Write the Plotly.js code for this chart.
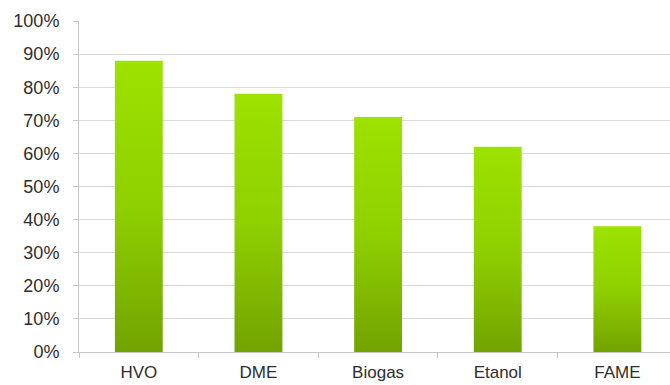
<!DOCTYPE html>
<html>
<head>
<meta charset="utf-8">
<script src="https://cdn.plot.ly/plotly-3.0.1.min.js"></script>
<style>
  html, body { margin: 0; padding: 0; background: #ffffff; }
  #chart { width: 670px; height: 385px; }
</style>
</head>
<body>
<div id="chart"></div>
<script>
// Share of greenhouse-gas reduction by fuel type
const fuels = ['HVO', 'DME', 'Biogas', 'Etanol', 'FAME'];
const shares = [0.88, 0.78, 0.71, 0.62, 0.38];
const yTickValues = [0, 0.1, 0.2, 0.3, 0.4, 0.5, 0.6, 0.7, 0.8, 0.9, 1.0];
const yTickLabels = ['0%', '10%', '20%', '30%', '40%', '50%', '60%', '70%', '80%', '90%', '100%'];

const yFont = { family: '"Liberation Sans", Arial, sans-serif', size: 18, color: '#2e2e2e' };
const xFont = { family: '"Liberation Sans", Arial, sans-serif', size: 17, color: '#2e2e2e' };

const trace = {
  type: 'bar',
  x: fuels,
  y: shares,
  marker: { color: '#8cc800', line: { width: 0 } },
  hoverinfo: 'x+y'
};

const layout = {
  width: 670,
  height: 385,
  margin: { l: 79, r: 0, t: 21, b: 33 },
  paper_bgcolor: '#ffffff',
  plot_bgcolor: '#ffffff',
  bargap: 0.6,
  showlegend: false,
  xaxis: {
    type: 'category',
    range: [-0.5, 4.44],
    showline: true,
    linecolor: '#c8c8c8',
    linewidth: 1,
    ticks: 'outside',
    tickson: 'boundaries',
    ticklen: 5,
    tickcolor: '#c8c8c8',
    showgrid: false,
    tickfont: xFont,
    ticklabelstandoff: 5
  },
  yaxis: {
    range: [0, 1.0],
    tickvals: yTickValues,
    ticktext: yTickLabels,
    showline: true,
    linecolor: '#c8c8c8',
    linewidth: 1,
    ticks: 'outside',
    ticklen: 5,
    tickcolor: '#c8c8c8',
    showgrid: true,
    gridcolor: '#d9d9d9',
    gridwidth: 1,
    zeroline: false,
    tickfont: yFont,
    ticklabelstandoff: 10
  }
};

// Vertical light-to-dark green fill applied to each bar
function applyBarGradient(gd) {
  const svg = gd.querySelector('svg.main-svg');
  if (!svg) return;
  const ns = 'http://www.w3.org/2000/svg';
  let defs = svg.querySelector('defs');
  if (!defs) { defs = document.createElementNS(ns, 'defs'); svg.insertBefore(defs, svg.firstChild); }
  if (!svg.querySelector('#barFill')) {
    const grad = document.createElementNS(ns, 'linearGradient');
    grad.setAttribute('id', 'barFill');
    grad.setAttribute('x1', '0'); grad.setAttribute('y1', '0');
    grad.setAttribute('x2', '0'); grad.setAttribute('y2', '1');
    [['0%', '#9de200'], ['50%', '#8fd000'], ['100%', '#72a300']].forEach(function (s) {
      const stop = document.createElementNS(ns, 'stop');
      stop.setAttribute('offset', s[0]);
      stop.setAttribute('stop-color', s[1]);
      grad.appendChild(stop);
    });
    defs.appendChild(grad);
  }
  gd.querySelectorAll('.bars .point path').forEach(function (p) {
    p.style.fill = 'url(#barFill)';
  });
}

const gd = document.getElementById('chart');
Plotly.newPlot(gd, [trace], layout, { displayModeBar: false, staticPlot: true }).then(function () {
  applyBarGradient(gd);
  gd.on('plotly_afterplot', function () { applyBarGradient(gd); });
});
</script>
</body>
</html>
